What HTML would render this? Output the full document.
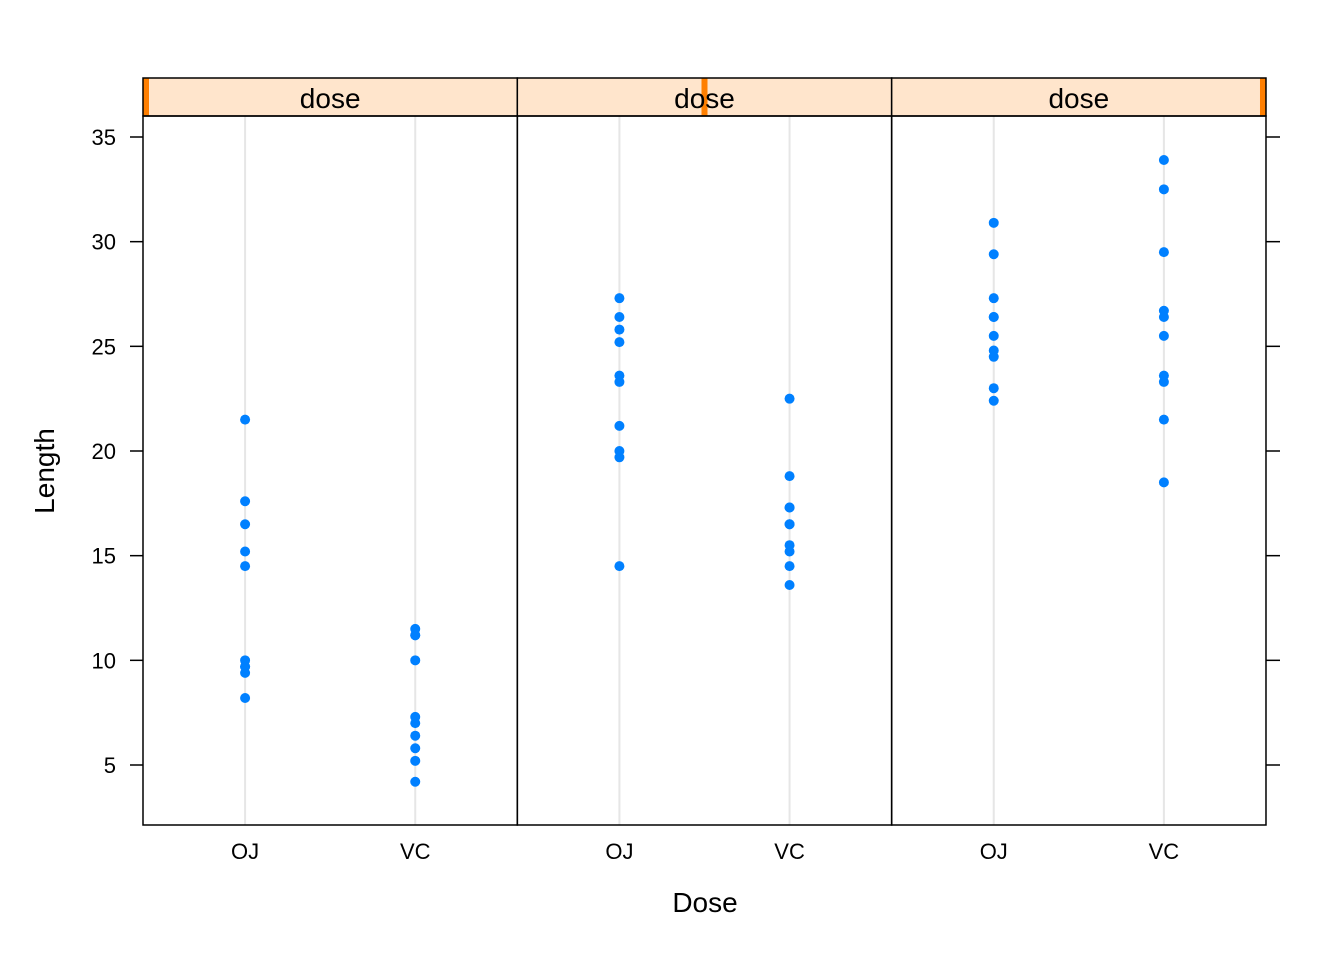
<!DOCTYPE html>
<html><head><meta charset="utf-8"><style>
html,body{margin:0;padding:0;background:#fff;}
svg{display:block;font-family:"Liberation Sans",sans-serif;}
</style></head><body>
<svg id="chart" width="1344" height="960" viewBox="0 0 1344 960"></svg>
<script>
const doses = ["0.5", "1", "2"];
const supps = ["OJ", "VC"];
const yTicks = [5, 10, 15, 20, 25, 30, 35];
const ojDose05 = [15.2, 21.5, 17.6, 9.7, 14.5, 10, 8.2, 9.4, 16.5, 9.7];
const vcDose05 = [4.2, 11.5, 7.3, 5.8, 6.4, 10, 11.2, 11.2, 5.2, 7];
const ojDose1 = [19.7, 23.3, 23.6, 26.4, 20, 25.2, 25.8, 21.2, 14.5, 27.3];
const vcDose1 = [16.5, 16.5, 15.2, 17.3, 22.5, 17.3, 13.6, 14.5, 18.8, 15.5];
const ojDose2 = [25.5, 26.4, 22.4, 24.5, 24.8, 30.9, 26.4, 27.3, 29.4, 23];
const vcDose2 = [23.6, 18.5, 33.9, 25.5, 26.4, 32.5, 26.7, 21.5, 23.3, 29.5];
const panelData = [[ojDose05, vcDose05], [ojDose1, vcDose1], [ojDose2, vcDose2]];

(function(){
const NS = "http://www.w3.org/2000/svg";
const svg = document.getElementById("chart");
const plotLeft = 143, panelW = 374.33, plotTop = 116, plotBottom = 825, stripTop = 78;
function sy(v){ return 765 - (v - 5) * (628 / 30); }
function sx(p, i){ return plotLeft + p * panelW + ((i + 1) - 0.4) / 2.2 * panelW; }
function mk(tag, attrs, parent){
  const e = document.createElementNS(NS, tag);
  for (const k in attrs) e.setAttribute(k, attrs[k]);
  (parent || svg).appendChild(e);
  return e;
}

doses.forEach((d, p) => {
  const px = plotLeft + p * panelW;
  const g = mk("g", {});
  
  
  supps.forEach((s, i) => {
    const l = mk("line", {x1: sx(p, i), x2: sx(p, i), y1: plotTop, y2: plotBottom, stroke: "#e6e6e6", "stroke-width": 2}, g);
    
    
  });
  const st = mk("rect", {x: px, y: stripTop, width: panelW, height: plotTop - stripTop, fill: "#FFE5CC"}, g);
  
  
  const bw = 6;
  const bx = px + (panelW - bw) * p / (doses.length - 1);
  const ind = mk("rect", {x: bx, y: stripTop, width: bw, height: plotTop - stripTop, fill: "#FF7F00"}, g);
  
  
  mk("rect", {x: px, y: stripTop, width: panelW, height: plotTop - stripTop, fill: "none", stroke: "#000", "stroke-width": 1.5}, g);
  const tl = mk("text", {x: px + panelW / 2, y: 108, "text-anchor": "middle", "font-size": 28}, g);
  tl.textContent = "dose";
  
  
  supps.forEach((s, i) => {
    panelData[p][i].forEach(v => {
      const c = mk("circle", {cx: sx(p, i), cy: sy(v), r: 5, fill: "#0080FF"}, g);
      
      
    });
    const xl = mk("text", {x: sx(p, i), y: 859, "text-anchor": "middle", "font-size": 22}, g);
    xl.textContent = s;
    
    
  });
  const b = mk("rect", {x: px, y: plotTop, width: panelW, height: plotBottom - plotTop, fill: "none", stroke: "#000", "stroke-width": 1.5}, g);
  
  
});

yTicks.forEach(t => {
  const l1 = mk("line", {x1: 130, x2: plotLeft, y1: sy(t), y2: sy(t), stroke: "#000", "stroke-width": 1.5});
  
  
  const l2 = mk("line", {x1: 1266, x2: 1280, y1: sy(t), y2: sy(t), stroke: "#000", "stroke-width": 1.5});
  
  
  const tx = mk("text", {x: 116, y: sy(t) + 8, "text-anchor": "end", "font-size": 22});
  tx.textContent = t;
  
  
});

const xt = mk("text", {x: 705, y: 912, "text-anchor": "middle", "font-size": 28});
xt.textContent = "Dose";


const yt = mk("text", {x: 0, y: 0, "text-anchor": "middle", "font-size": 28, transform: "translate(54,471) rotate(-90)"});
yt.textContent = "Length";


})();
</script>
</body></html>
